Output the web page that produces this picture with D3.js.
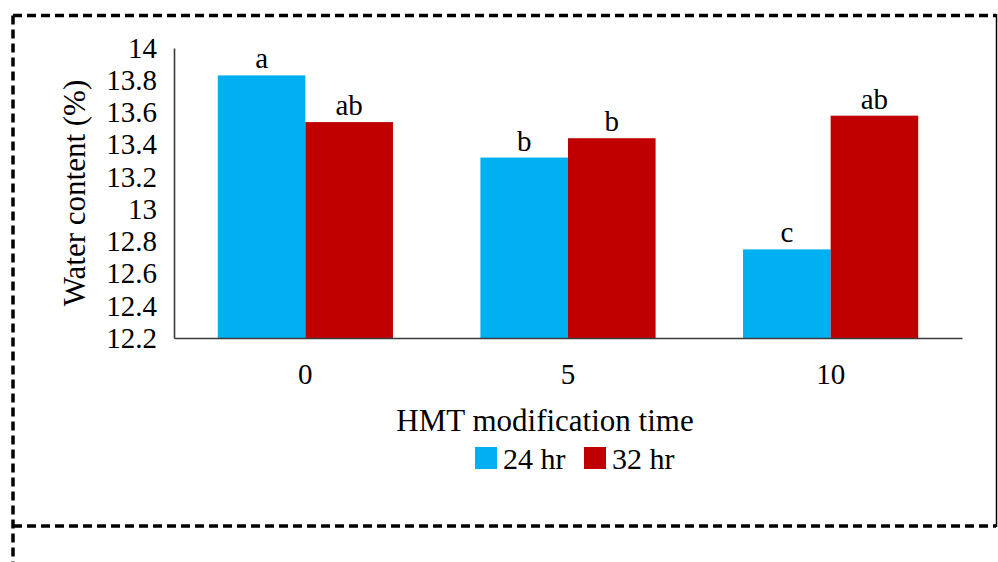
<!DOCTYPE html>
<html>
<head>
<meta charset="utf-8">
<script src="https://cdn.jsdelivr.net/npm/d3@7"></script>
<style>
  body { margin: 0; background: #fff; }
</style>
</head>
<body>
<div id="chart"></div>
<script>
// data
var categories = ["0", "5", "10"]
var seriesNames = ["24 hr", "32 hr"]
var values24 = [13.83, 13.32, 12.75]
var values32 = [13.54, 13.44, 13.58]
var letters24 = ["a", "b", "c"]
var letters32 = ["ab", "b", "ab"]
var yTicks = [12.2, 12.4, 12.6, 12.8, 13, 13.2, 13.4, 13.6, 13.8, 14]
var colors = ["#00B0F0", "#C00000"]

var font = "Liberation Serif"
var width = 998
var height = 562
var margin = {top: 48, right: 36, bottom: 224, left: 174}

var svg = d3.select("#chart")
  .append("svg")
  .attr("width", width)
  .attr("height", height)
  .attr("font-family", font)

// dashed frame round the figure
svg.append("path")
  .attr("d", "M13,15.5 H996 M13,15.5 V562 M13,526 H996")
  .attr("fill", "none")
  .attr("stroke", "#000")
  .attr("stroke-width", 3.5)
  .attr("stroke-dasharray", "9,5")
svg.append("line")
  .attr("x1", 996.5).attr("x2", 996.5)
  .attr("y1", 14).attr("y2", 527)
  .attr("stroke", "#000")
  .attr("stroke-width", 1.5)

var x = d3.scaleBand()
  .domain(categories)
  .range([margin.left, width - margin.right])
  .paddingInner(0.333)
  .paddingOuter(0.1667)

var xSub = d3.scaleBand()
  .domain(seriesNames)
  .range([0, x.bandwidth()])

var y = d3.scaleLinear()
  .domain([12.2, 14])
  .range([height - margin.bottom, margin.top])

// rows for the bars
var rows = []
categories.forEach(function(c, i) {
  rows.push({cat: c, s: seriesNames[0], v: values24[i], lab: letters24[i], col: colors[0]})
  rows.push({cat: c, s: seriesNames[1], v: values32[i], lab: letters32[i], col: colors[1]})
})

svg.append("g")
  .selectAll("rect")
  .data(rows)
  .join("rect")
    .attr("x", d => x(d.cat) + xSub(d.s))
    .attr("y", d => y(d.v))
    .attr("width", xSub.bandwidth())
    .attr("height", d => y(12.2) - y(d.v))
    .attr("fill", d => d.col)

// significance letters
svg.append("g")
  .selectAll("text")
  .data(rows)
  .join("text")
    .attr("x", d => x(d.cat) + xSub(d.s) + xSub.bandwidth() / 2)
    .attr("y", d => y(d.v) - 7)
    .attr("text-anchor", "middle")
    .attr("font-family", font)
    .attr("font-size", 29)
    .text(d => d.lab)

// axes
var yAxis = svg.append("g")
  .attr("transform", "translate(" + margin.left + ",0)")
  .call(d3.axisLeft(y)
    .tickValues(yTicks)
    .tickFormat(d => String(d))
    .tickSize(0)
    .tickPadding(17))
yAxis.attr("font-family", font).attr("font-size", 29)
yAxis.select(".domain").attr("stroke", "#3a3a3a").attr("stroke-width", 1.6)
yAxis.selectAll("text").attr("font-family", font).attr("fill", "#000")

var xAxis = svg.append("g")
  .attr("transform", "translate(0," + y(12.2) + ")")
  .call(d3.axisBottom(x)
    .tickSize(0)
    .tickPadding(25))
xAxis.attr("font-family", font).attr("font-size", 29)
xAxis.select(".domain").attr("stroke", "#3a3a3a").attr("stroke-width", 1.6)
xAxis.selectAll("text").attr("font-family", font).attr("fill", "#000")

// axis titles
svg.append("text")
  .attr("x", 545)
  .attr("y", 431)
  .attr("text-anchor", "middle")
  .attr("font-family", font)
  .attr("font-size", 31)
  .text("HMT modification time")

svg.append("text")
  .attr("transform", "translate(85," + 193 + ") rotate(-90)")
  .attr("text-anchor", "middle")
  .attr("font-family", font)
  .attr("font-size", 31)
  .text("Water content (%)")

// legend
var legendX = [475, 584]
var legend = svg.append("g")
  .selectAll("g")
  .data(seriesNames)
  .join("g")
    .attr("transform", (d, i) => "translate(" + legendX[i] + ",447)")
legend.append("rect")
  .attr("width", 22)
  .attr("height", 22)
  .attr("fill", (d, i) => colors[i])
legend.append("text")
  .attr("x", 28)
  .attr("y", 22)
  .attr("font-family", font)
  .attr("font-size", 30)
  .text(d => d)
</script>
</body>
</html>
